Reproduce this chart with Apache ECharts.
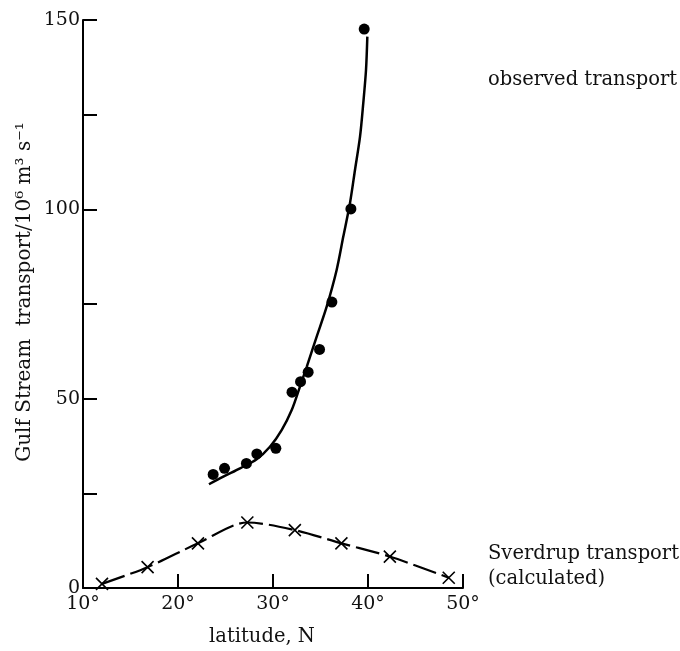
<!DOCTYPE html>
<html>
<head>
<meta charset="utf-8">
<script src="https://cdn.jsdelivr.net/npm/echarts@6/dist/echarts.min.js"></script>
<style>
  html, body { margin: 0; padding: 0; background: #fff; }
  #chart { width: 680px; height: 651px; }
</style>
</head>
<body>
<div id="chart"></div>
<script>
// Observed Gulf Stream transport (10^6 m^3 s^-1) against latitude (deg N)
const obsLat = [23.7, 24.9, 27.2, 28.3, 30.3, 32.0, 32.9, 33.7, 34.9, 36.2, 38.2, 39.6];
const obsTransport = [30.0, 31.6, 32.9, 35.4, 36.9, 51.7, 54.5, 57.0, 63.0, 75.5, 100.1, 147.6];

// Curve drawn through the observed values
const fitLat = [23.26, 24.77, 26.53, 28.28, 29.68, 30.91, 31.97, 32.84, 33.55, 34.6,
                35.65, 36.7, 37.4, 38.1, 38.63, 39.16, 39.5, 39.79, 39.93];
const fitTransport = [27.4, 29.4, 31.6, 34.0, 37.3, 41.7, 47.0, 53.2, 58.4, 66.4,
                      74.3, 84.0, 92.8, 101.6, 110.4, 119.2, 128.0, 136.8, 145.6];

// Sverdrup transport (calculated)
const svLat = [12, 16.8, 22.1, 27.3, 32.3, 37.2, 42.3, 48.5];
const svTransport = [1.1, 5.5, 11.8, 17.3, 15.3, 11.8, 8.3, 2.7];

// Axis ticks
const xTicks = [10, 20, 30, 40, 50];
const yLabelled = [0, 50, 100, 150];

const FONT = 'DejaVu Serif';
const pair = (xs, ys) => xs.map((x, i) => [x, ys[i]]);

const chart = echarts.init(document.getElementById('chart'));
chart.setOption({
  animation: false,
  backgroundColor: '#fff',
  grid: { left: 83, right: 217, top: 20, bottom: 63 },
  xAxis: {
    type: 'value',
    min: xTicks[0], max: xTicks[xTicks.length - 1], interval: 10,
    axisLine: { lineStyle: { color: '#000', width: 2 } },
    axisTick: { inside: true, length: 14, lineStyle: { color: '#000', width: 2 } },
    axisLabel: {
      fontFamily: FONT, fontSize: 19, color: '#111', margin: 7,
      formatter: v => xTicks.includes(v) ? v + '°' : ''
    },
    splitLine: { show: false }
  },
  yAxis: {
    type: 'value',
    min: 0, max: 150, interval: 25,
    axisLine: { show: true, lineStyle: { color: '#000', width: 2 } },
    axisTick: { show: true, inside: true, length: 14, lineStyle: { color: '#000', width: 2 } },
    axisLabel: {
      fontFamily: FONT, fontSize: 19, color: '#111', margin: 3,
      formatter: v => yLabelled.includes(v) ? String(v) : ''
    },
    splitLine: { show: false }
  },
  graphic: [
    {
      type: 'text', x: 25, y: 292,
      rotation: Math.PI / 2,
      style: {
        text: 'Gulf Stream  transport/10⁶ m³ s⁻¹',
        fontFamily: FONT, fontSize: 20, fill: '#111',
        align: 'center', verticalAlign: 'middle'
      }
    },
    {
      type: 'text', x: 262, y: 637,
      style: {
        text: 'latitude, N', fontFamily: FONT, fontSize: 19.5, fill: '#111',
        align: 'center', verticalAlign: 'middle'
      }
    },
    {
      type: 'text', left: 488, top: 70,
      style: { text: 'observed transport', fontFamily: FONT, fontSize: 19.5, fill: '#111' }
    },
    {
      type: 'text', left: 488, top: 541,
      style: { text: 'Sverdrup transport\n(calculated)', fontFamily: FONT, fontSize: 19.5, lineHeight: 25, fill: '#111' }
    }
  ],
  series: [
    {
      name: 'fit',
      type: 'line',
      data: pair(fitLat, fitTransport),
      smooth: 0.3,
      showSymbol: false,
      lineStyle: { color: '#000', width: 2.5 },
      z: 2
    },
    {
      name: 'observed transport',
      type: 'scatter',
      data: pair(obsLat, obsTransport),
      symbol: 'circle',
      symbolSize: 11,
      itemStyle: { color: '#000', opacity: 1 },
      z: 3
    },
    {
      name: 'Sverdrup transport',
      type: 'line',
      data: pair(svLat, svTransport),
      smooth: 0.3,
      symbol: 'path://M0,0L10,10M10,0L0,10',
      symbolSize: 12,
      showAllSymbol: true,
      itemStyle: { color: 'rgba(0,0,0,0)', borderColor: '#000', borderWidth: 1.6 },
      lineStyle: { color: '#000', width: 2.2, type: [24, 6] },
      z: 3
    }
  ]
});
</script>
</body>
</html>
